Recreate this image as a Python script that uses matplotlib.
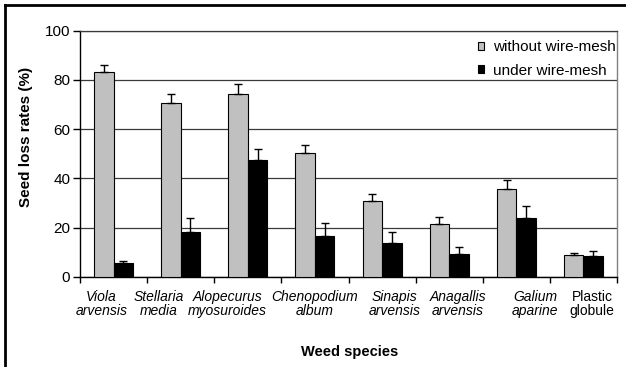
import matplotlib
matplotlib.use("Agg")
import matplotlib.pyplot as plt
import numpy as np
from matplotlib.lines import Line2D

plt.rcParams['font.family'] = ['Liberation Sans', 'DejaVu Sans']

species_line1 = ["Viola", "Stellaria", "Alopecurus", "Chenopodium", "Sinapis", "Anagallis", "Galium", "Plastic"]
species_line2 = ["arvensis", "media", "myosuroides", "album", "arvensis", "arvensis", "aparine", "globule"]
italic_flags = [True, True, True, True, True, True, True, False]

without_mesh = [83.3, 70.7, 74.4, 50.4, 30.6, 21.3, 35.5, 8.7]
without_err = [2.9, 3.7, 3.8, 3.3, 3.0, 2.8, 3.7, 0.8]
under_mesh = [5.4, 18.0, 47.3, 16.7, 13.8, 9.1, 23.7, 8.3]
under_err = [1.1, 6.0, 4.6, 5.0, 4.2, 2.9, 5.2, 2.2]

series_labels = ["without wire-mesh", "under wire-mesh"]
yticks = [0, 20, 40, 60, 80, 100]

fig = plt.figure(figsize=(6.26, 3.67), dpi=100)
ax = fig.add_axes([80/626, 1-276.7/367, 537/626, 246/367])

x = np.arange(len(species_line1))
w = 0.29
ax.bar(x - w/2, without_mesh, w, color='#c0c0c0', edgecolor='black', linewidth=0.8,
       label=series_labels[0], zorder=3)
ax.bar(x + w/2, under_mesh, w, color='black', edgecolor='black', linewidth=0.8,
       label=series_labels[1], zorder=3)
ax.errorbar(x - w/2, without_mesh, yerr=[np.zeros(len(x)), without_err], fmt='none',
            ecolor='black', elinewidth=1, capsize=3, capthick=1, zorder=4)
ax.errorbar(x + w/2, under_mesh, yerr=[np.zeros(len(x)), under_err], fmt='none',
            ecolor='black', elinewidth=1, capsize=3, capthick=1, zorder=4)

ax.set_xlim(-0.5, len(x) - 0.5)
ax.set_ylim(0, 100)
ax.set_yticks(yticks)
ax.tick_params(axis='y', direction='out', length=5, width=1, labelsize=11, pad=2)
ax.yaxis.grid(True, color='#3a3a3a', linewidth=0.9, zorder=0)

# category boundary ticks
ax.set_xticks(np.arange(-0.5, len(x), 1.0))
ax.set_xticklabels([])
ax.tick_params(axis='x', which='major', direction='out', length=4, width=1)
# labels via minor ticks (slightly shifted as in the reference layout)
label_shift = [-0.18, -0.33, -0.30, -0.01, 0.19, 0.13, 0.28, 0.13]
ax.set_xticks(x + np.array(label_shift), minor=True)
ax.set_xticklabels([f"{a}\n{b}" for a, b in zip(species_line1, species_line2)], minor=True)
ax.tick_params(axis='x', which='minor', length=0, pad=9.5, labelsize=10)
for lab, it in zip(ax.get_xticklabels(minor=True), italic_flags):
    lab.set_fontstyle('italic' if it else 'normal')
    lab.set_linespacing(1.0)
    lab.set_ha('center')

for s in ['left', 'bottom']:
    ax.spines[s].set_color('black')
    ax.spines[s].set_linewidth(1)
ax.spines['right'].set_color('#808080')
ax.spines['top'].set_color('#3a3a3a')
ax.spines['right'].set_linewidth(1)
ax.spines['top'].set_linewidth(0.9)

ax.set_ylabel("Seed loss rates (%)", fontsize=11, fontweight='bold')
ax.yaxis.set_label_coords(-0.0875, 0.569)
ax.set_xlabel("Weed species", fontsize=10.5, fontweight='bold')
ax.xaxis.set_label_coords(0.503, -0.306)
ax.xaxis.label.set_va('center')

ax.legend(loc='upper right', bbox_to_anchor=(0.998, 0.962), frameon=False, fontsize=11,
          handlelength=0.42, handleheight=0.42, handletextpad=0.6,
          labelspacing=0.62, borderaxespad=0, borderpad=0)

# figure frame lines (top and left)
fig.add_artist(Line2D([4.5/626, 1], [1-5/367, 1-5/367], transform=fig.transFigure,
                      color='black', linewidth=2))
fig.add_artist(Line2D([5/626, 5/626], [0, 1-4.5/367], transform=fig.transFigure,
                      color='black', linewidth=2))

fig.savefig("out.png", dpi=100)
